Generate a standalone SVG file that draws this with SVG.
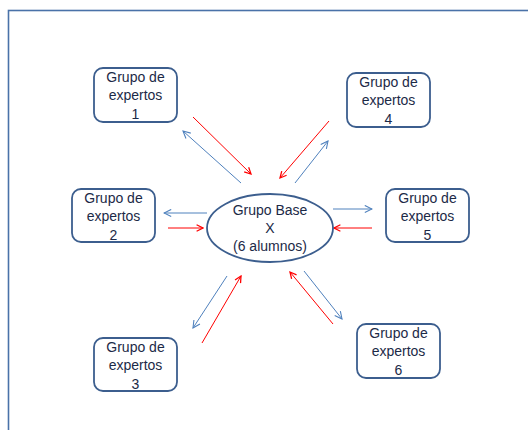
<svg xmlns="http://www.w3.org/2000/svg" width="528" height="430" viewBox="0 0 528 430">
<style>
.frame{fill:none;stroke:#4a72a8;stroke-width:1.6}
.box{fill:#fff;stroke:#3c5e8e;stroke-width:1.8}
.t{font-family:"Liberation Sans",Arial,sans-serif;font-size:14px;fill:#1c2a47;text-anchor:middle}
.b{stroke:#4f81bd;stroke-width:1;fill:none}
.r{stroke:#ff0000;stroke-width:1;fill:none}
</style>
<defs>
<marker id="ab" viewBox="0 0 10 10" refX="9" refY="5" markerWidth="9" markerHeight="9" markerUnits="userSpaceOnUse" orient="auto">
<polyline points="1,1 9,5 1,9" fill="none" stroke="#4f81bd" stroke-width="1.2"/>
</marker>
<marker id="ar" viewBox="0 0 10 10" refX="9" refY="5" markerWidth="8" markerHeight="8" markerUnits="userSpaceOnUse" orient="auto">
<polyline points="1,1 9,5 1,9" fill="none" stroke="#ff0000" stroke-width="1.6"/>
</marker>
</defs>
<rect width="528" height="430" fill="#fff"/>
<rect class="frame" x="8.5" y="10.5" width="530" height="430"/>
<g id="connectors">
<line class="r" x1="193" y1="117" x2="251" y2="174" marker-end="url(#ar)"/>
<line class="b" x1="241" y1="183" x2="183" y2="131" marker-end="url(#ab)"/>
<line class="r" x1="329" y1="121" x2="280" y2="178" marker-end="url(#ar)"/>
<line class="b" x1="295" y1="183" x2="328" y2="141" marker-end="url(#ab)"/>
<line class="b" x1="207" y1="213" x2="164" y2="213" marker-end="url(#ab)"/>
<line class="r" x1="168" y1="228" x2="203" y2="228" marker-end="url(#ar)"/>
<line class="b" x1="333" y1="209" x2="372" y2="209" marker-end="url(#ab)"/>
<line class="r" x1="372" y1="228" x2="334" y2="228" marker-end="url(#ar)"/>
<line class="b" x1="227" y1="276" x2="193" y2="328" marker-end="url(#ab)"/>
<line class="r" x1="202" y1="343" x2="241" y2="276" marker-end="url(#ar)"/>
<line class="r" x1="333" y1="324" x2="290" y2="272" marker-end="url(#ar)"/>
<line class="b" x1="304" y1="271" x2="342" y2="319" marker-end="url(#ab)"/>
</g>
<g id="base">
<ellipse class="box" cx="270" cy="228" rx="63" ry="34"/>
<text class="t" x="270" y="215">Grupo Base</text>
<text class="t" x="270" y="233">X</text>
<text class="t" x="270" y="251">(6 alumnos)</text>
</g>
<g id="g1">
<rect class="box" x="94" y="68" width="83" height="54" rx="9"/>
<text class="t" x="135.5" y="82">Grupo de</text>
<text class="t" x="135.5" y="100">expertos</text>
<text class="t" x="135.5" y="119">1</text>
</g>
<g id="g2">
<rect class="box" x="72" y="189" width="83" height="53" rx="9"/>
<text class="t" x="113.5" y="203">Grupo de</text>
<text class="t" x="113.5" y="221">expertos</text>
<text class="t" x="113.5" y="240">2</text>
</g>
<g id="g3">
<rect class="box" x="94" y="338" width="83" height="53" rx="9"/>
<text class="t" x="135.5" y="352">Grupo de</text>
<text class="t" x="135.5" y="370">expertos</text>
<text class="t" x="135.5" y="389">3</text>
</g>
<g id="g4">
<rect class="box" x="347" y="73" width="83" height="54" rx="9"/>
<text class="t" x="388.5" y="87">Grupo de</text>
<text class="t" x="388.5" y="105">expertos</text>
<text class="t" x="388.5" y="124">4</text>
</g>
<g id="g5">
<rect class="box" x="386" y="189" width="83" height="53" rx="9"/>
<text class="t" x="427.5" y="203">Grupo de</text>
<text class="t" x="427.5" y="221">expertos</text>
<text class="t" x="427.5" y="240">5</text>
</g>
<g id="g6">
<rect class="box" x="357" y="324" width="83" height="54" rx="9"/>
<text class="t" x="398.5" y="338">Grupo de</text>
<text class="t" x="398.5" y="356">expertos</text>
<text class="t" x="398.5" y="375">6</text>
</g>
</svg>
